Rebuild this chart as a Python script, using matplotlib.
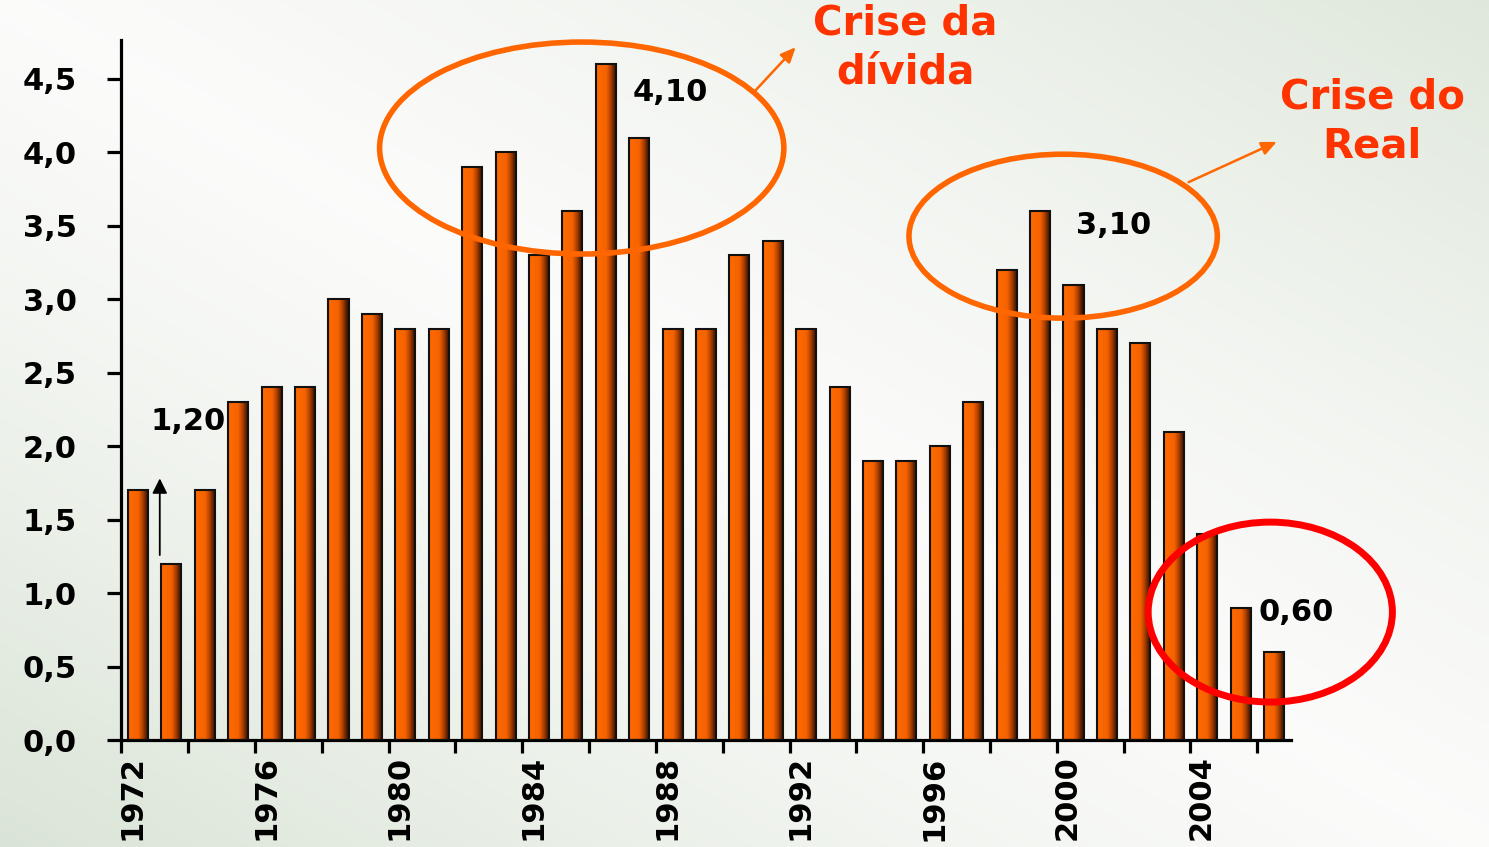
import numpy as np
import matplotlib
matplotlib.use("Agg")
import matplotlib.pyplot as plt
from matplotlib.patches import Ellipse
from matplotlib.colors import LinearSegmentedColormap
from matplotlib.transforms import ScaledTranslation

# data
years = list(range(1972, 2007))
values = [1.7, 1.2, 1.7, 2.3, 2.4, 2.4, 3.0, 2.9, 2.8, 2.8,
          3.9, 4.0, 3.3, 3.6, 4.6, 4.1, 2.8, 2.8, 3.3, 3.4,
          2.8, 2.4, 1.9, 1.9, 2.0, 2.3, 3.2, 3.6, 3.1, 2.8,
          2.7, 2.1, 1.4, 0.9, 0.6]
label_years = [1972, 1976, 1980, 1984, 1988, 1992, 1996, 2000, 2004]
y_ticks = [0.0, 0.5, 1.0, 1.5, 2.0, 2.5, 3.0, 3.5, 4.0, 4.5]

plt.rcParams['font.family'] = ['DejaVu Sans']
plt.rcParams['font.weight'] = 'bold'

fig = plt.figure(figsize=(14.89, 8.47), dpi=100)

# background: white diagonal band, green towards bottom-left / top-right corners
bg = fig.add_axes([0, 0, 1, 1], zorder=-10)
gx, gy = np.meshgrid(np.linspace(0, 1, 300), np.linspace(0, 1, 200))
s = gx + gy - 1.0
t = np.where(s < 0, np.clip(-s / 1.0, 0, 1) ** 1.3, np.clip(s / 1.0, 0, 1) ** 1.3 * 0.85)
c0 = np.array([0.985, 0.985, 0.982])
c1 = np.array([0.855, 0.895, 0.840])
img = c0 + (c1 - c0) * t[..., None]
bg.imshow(img, extent=[0, 1, 0, 1], origin='lower', aspect='auto')
bg.axis('off')

ax = fig.add_axes([0.0815, 0.1263, 0.7853, 0.8264])
ax.patch.set_alpha(0)

cmap = LinearSegmentedColormap.from_list(
    'bar', [(0, '#ff6a00'), (0.5, '#f56200'), (0.7, '#b04200'),
            (0.88, '#5a1e00'), (1, '#2e0c00')])
grad = np.linspace(0, 1, 64).reshape(1, -1)

bars = ax.bar(years, values, width=0.6, facecolor='none',
              edgecolor='#111111', linewidth=1.5, zorder=3)
for b in bars:
    ax.imshow(grad, extent=[b.get_x(), b.get_x() + b.get_width(), 0, b.get_height()],
              aspect='auto', cmap=cmap, zorder=2, interpolation='bicubic')

ax.set_xlim(1971.5, 2006.5)
ax.set_ylim(0, 4.765)

for sp in ['top', 'right']:
    ax.spines[sp].set_visible(False)
for sp in ['left', 'bottom']:
    ax.spines[sp].set_linewidth(2.3)

ax.set_yticks(y_ticks)
ax.set_yticklabels([f"{v:.1f}".replace('.', ',') for v in y_ticks], fontsize=22, fontweight='bold')
ax.tick_params(axis='y', length=10, width=2.3, pad=22)

ax.set_xticks(label_years)
ax.set_xticklabels([str(y) for y in label_years], rotation=90, fontsize=22,
                   fontweight='bold', va='top', ha='center')
ax.set_xticks(np.arange(1971.5, 2006, 2), minor=True)
ax.tick_params(axis='x', which='major', length=0, pad=11)
ax.tick_params(axis='x', which='minor', length=9, width=2.3)
off = ScaledTranslation(-6 / 100, 0, fig.dpi_scale_trans)
for lab in ax.get_xticklabels():
    lab.set_transform(lab.get_transform() + off)

# value labels
txt = dict(fontsize=22, fontweight='bold', color='black', ha='left', va='center')
ax.text(1972.36, 2.17, "1,20", **txt)
ax.text(1986.80, 4.41, "4,10", **txt)
ax.text(2000.08, 3.50, "3,10", **txt)
ax.text(2005.53, 0.865, "0,60", **txt, clip_on=False)

ax.annotate("", xy=(1972.65, 1.80), xytext=(1972.65, 1.24),
            arrowprops=dict(arrowstyle='-|>,head_width=0.45,head_length=0.9',
                            color='black', lw=1.3))

# highlight ellipses
ax.add_patch(Ellipse((1985.28, 4.03), 12.1, 1.443, fill=False,
                     edgecolor='#ff6600', lw=4, zorder=5, clip_on=False))
ax.add_patch(Ellipse((1999.69, 3.43), 9.23, 1.116, fill=False,
                     edgecolor='#ff6600', lw=4, zorder=5, clip_on=False))
ax.add_patch(Ellipse((2005.89, 0.871), 7.31, 1.225, fill=False,
                     edgecolor='#ff0000', lw=5, zorder=5, clip_on=False))

orange_arrow = dict(arrowstyle='-|>,head_width=0.4,head_length=0.9',
                    color='#ff6600', lw=1.8)
ax.annotate("", xy=(1991.74, 4.73), xytext=(1990.39, 4.40),
            arrowprops=orange_arrow, annotation_clip=False)
ax.annotate("", xy=(2006.16, 4.08), xytext=(2003.37, 3.79),
            arrowprops=orange_arrow, annotation_clip=False)

fig.text(0.6078, 0.9433, "Crise da\ndívida", fontsize=29, fontweight='bold',
         color='#ff3300', ha='center', va='center', linespacing=1.28)
fig.text(0.9214, 0.856, "Crise do\nReal", fontsize=29, fontweight='bold',
         color='#ff3300', ha='center', va='center', linespacing=1.28)

fig.savefig("out.png", dpi=100)
